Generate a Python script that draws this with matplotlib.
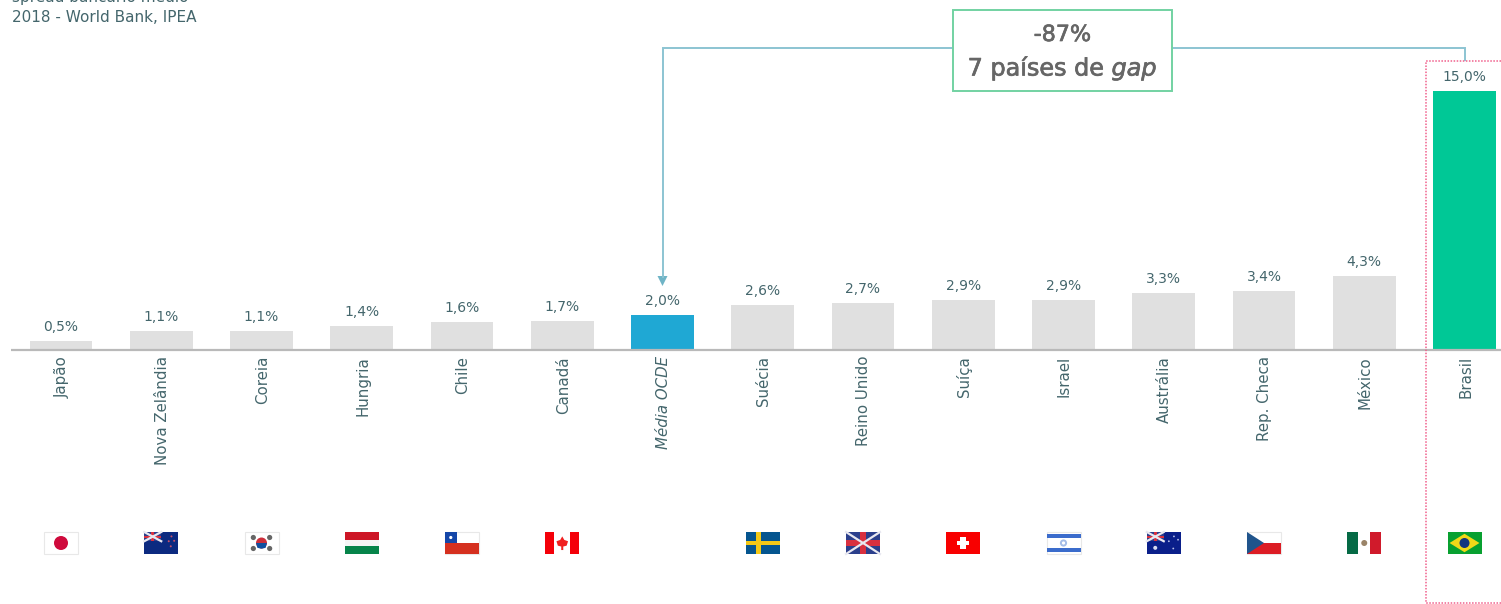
import matplotlib
matplotlib.use("Agg")
import matplotlib.pyplot as plt
import matplotlib.patheffects as pe
from matplotlib.patches import Rectangle, Circle, Polygon

plt.rcParams['font.family'] = ['DejaVu Sans']

paises = ["Japão", "Nova Zelândia", "Coreia", "Hungria", "Chile", "Canadá", "Média OCDE",
          "Suécia", "Reino Unido", "Suíça", "Israel", "Austrália", "Rep. Checa", "México", "Brasil"]
spread = [0.5, 1.1, 1.1, 1.4, 1.6, 1.7, 2.0, 2.6, 2.7, 2.9, 2.9, 3.3, 3.4, 4.3, 15.0]
flags = ["jp", "nz", "kr", "hu", "cl", "ca", None, "se", "uk", "ch", "il", "au", "cz", "mx", "br"]

W, H = 1501, 604
TXT = "#44666c"
GREY = "#e0e0e0"
BLUE = "#1fa8d4"
GREEN = "#00c896"
LINE = "#8cc4d2"
PINK = "#f0608c"

fig = plt.figure(figsize=(W / 100, H / 100), dpi=100)
ax = fig.add_axes([0, 0, 1, 1])
# scale: bar i centred at 61 + 100.25*i px, 17.27 px per point, baseline at y=350
ax.set_xlim(-61 / 100.25, (W - 61) / 100.25)
ax.set_ylim(-(H - 350) / 17.27, 350 / 17.27)
ax.axis("off")

colors = [GREY] * len(paises)
colors[6] = BLUE
colors[-1] = GREEN
x = list(range(len(paises)))
ax.bar(x, spread, width=0.625, color=colors, linewidth=0)

for i, v in enumerate(spread):
    ax.annotate(f"{v:.1f}%".replace(".", ","), (i, v), xytext=(0, 7), textcoords="offset pixels",
                ha="center", va="bottom", fontsize=10, color=TXT)
    ax.annotate(paises[i], (i, 0), xytext=(1, -6), textcoords="offset pixels", rotation=90,
                ha="center", va="top", fontsize=10.8, color=TXT,
                style="italic" if i == 6 else "normal")

# overlay in pixel coordinates for the annotations and flags
ov = fig.add_axes([0, 0, 1, 1])
ov.set_xlim(0, W)
ov.set_ylim(H, 0)
ov.axis("off")
ov.patch.set_alpha(0)

ov.plot([11, W], [350, 350], color="#b9b9b9", lw=1.6, solid_capstyle="butt")

ov.text(12, -3, "spread bancário médio", fontsize=11, color=TXT, va="center", ha="left")
ov.text(12, 18, "2018 - World Bank, IPEA", fontsize=11, color=TXT, va="center", ha="left")

# connector between Brasil and the OCDE mean
ov.plot([1464.5, 1464.5, 662.5, 662.5], [60, 47.5, 47.5, 277], color=LINE, lw=1.4,
        solid_joinstyle="miter")
ov.add_patch(Polygon([[657.5, 276], [667.5, 276], [662.5, 286]], color="#6fb4c6", lw=0))
ov.add_patch(Rectangle((953, 10), 219, 81, fc="white", ec="#72d2a2", lw=1.4, zorder=3))
heavy = [pe.withStroke(linewidth=0.5, foreground="#666666")]
ov.text(1062.5, 35, "-87%", fontsize=16, color="#666666", ha="center", va="center", zorder=4,
        path_effects=heavy)
ov.text(1062.5, 68, "7 países de $\\mathit{gap}$", fontsize=17.2, color="#666666", ha="center",
        va="center", zorder=4, math_fontfamily="dejavusans", path_effects=heavy)

# dotted highlight round Brasil
ov.plot([W, 1426, 1426, W], [60.5, 60.5, 603, 603], color=PINK, lw=1.1, ls=(0, (1, 1)))


def flag(kind, cx):
    l, t, w, h = cx - 17, 532, 34, 22

    def r(a, b, c, d, col):
        ov.add_patch(Rectangle((l + a * w, t + b * h), c * w, d * h, fc=col, lw=0))

    def c(a, b, rad, col):
        ov.add_patch(Circle((l + a * w, t + b * h), rad, fc=col, lw=0))

    def p(pts, col):
        ov.add_patch(Polygon([(l + a * w, t + b * h) for a, b in pts], fc=col, lw=0))

    def border():
        ov.add_patch(Rectangle((l, t), w, h, fc="none", ec="#e8e8e8", lw=0.8))

    def union(a, b, c_w, d_h):
        r(a, b, c_w, d_h, "#2b3f8c")
        ov.plot([l + a * w, l + (a + c_w) * w], [t + b * h, t + (b + d_h) * h], color="#e8e8f0", lw=1.6)
        ov.plot([l + a * w, l + (a + c_w) * w], [t + (b + d_h) * h, t + b * h], color="#e8e8f0", lw=1.6)
        r(a, b + d_h * 0.38, c_w, d_h * 0.24, "#d8303f")
        r(a + c_w * 0.42, b, c_w * 0.16, d_h, "#d8303f")

    if kind == "jp":
        r(0, 0, 1, 1, "white")
        c(0.5, 0.5, 7, "#cf0a3c")
        border()
    elif kind == "nz":
        r(0, 0, 1, 1, "#0c2a80")
        union(0, 0, 0.5, 0.42)
        for a, b in [(0.8, 0.2), (0.72, 0.42), (0.88, 0.4), (0.78, 0.65)]:
            c(a, b, 1, "#c8506a")
    elif kind == "kr":
        r(0, 0, 1, 1, "white")
        border()
        c(0.5, 0.5, 5.5, "#cd2e3a")
        p([(0.34, 0.5), (0.66, 0.5), (0.62, 0.72), (0.5, 0.76), (0.38, 0.72)], "#0f4fa0")
        for a, b in [(0.26, 0.25), (0.74, 0.25), (0.26, 0.75), (0.74, 0.75)]:
            c(a, b, 2.6, "#666666")
    elif kind == "hu":
        r(0, 0, 1, 0.36, "#cd1626")
        r(0, 0.36, 1, 0.28, "#f5f5f5")
        r(0, 0.64, 1, 0.36, "#06844a")
    elif kind == "cl":
        r(0, 0, 1, 0.5, "white")
        border()
        r(0, 0.5, 1, 0.5, "#d5301f")
        r(0, 0, 0.34, 0.5, "#1446a8")
        c(0.17, 0.25, 1.6, "white")
    elif kind == "ca":
        r(0, 0, 1, 1, "white")
        r(0, 0, 0.27, 1, "#f40009")
        r(0.73, 0, 0.27, 1, "#f40009")
        p([(0.5, 0.2), (0.56, 0.36), (0.67, 0.42), (0.63, 0.62), (0.53, 0.66), (0.53, 0.82),
           (0.47, 0.82), (0.47, 0.66), (0.37, 0.62), (0.33, 0.42), (0.44, 0.36)], "#f02020")
    elif kind == "se":
        r(0, 0, 1, 1, "#05558f")
        r(0.29, 0, 0.17, 1, "#f4c816")
        r(0, 0.41, 1, 0.18, "#f4c816")
    elif kind == "uk":
        union(0, 0, 1, 1)
    elif kind == "ch":
        r(0, 0, 1, 1, "#f80000")
        r(0.32, 0.41, 0.36, 0.18, "white")
        r(0.41, 0.22, 0.18, 0.56, "white")
    elif kind == "il":
        r(0, 0, 1, 1, "white")
        border()
        r(0, 0.08, 1, 0.2, "#3b6ccc")
        r(0, 0.72, 1, 0.2, "#3b6ccc")
        c(0.5, 0.5, 3.6, "#a4bde8")
        c(0.5, 0.5, 1.6, "white")
    elif kind == "au":
        r(0, 0, 1, 1, "#0a1f8a")
        union(0, 0, 0.5, 0.42)
        c(0.25, 0.72, 2, "#d8dcf0")
        for a, b in [(0.8, 0.2), (0.65, 0.42), (0.92, 0.35), (0.78, 0.75)]:
            c(a, b, 0.9, "#b8c0e8")
    elif kind == "cz":
        r(0, 0, 1, 0.5, "white")
        border()
        r(0, 0.5, 1, 0.5, "#dc1c24")
        p([(0, 0), (0.5, 0.5), (0, 1)], "#20548c")
    elif kind == "mx":
        r(0, 0, 1, 1, "white")
        r(0, 0, 0.33, 1, "#056a45")
        r(0.67, 0, 0.33, 1, "#d01a2b")
        c(0.5, 0.5, 3, "#9a8468")
    elif kind == "br":
        r(0, 0, 1, 1, "#08a030")
        p([(0.06, 0.5), (0.5, 0.08), (0.94, 0.5), (0.5, 0.92)], "#f2d818")
        c(0.5, 0.5, 5, "#12357f")


for i, k in enumerate(flags):
    if k:
        flag(k, 61 + 100.25 * i)

fig.savefig("out.png", dpi=100)
